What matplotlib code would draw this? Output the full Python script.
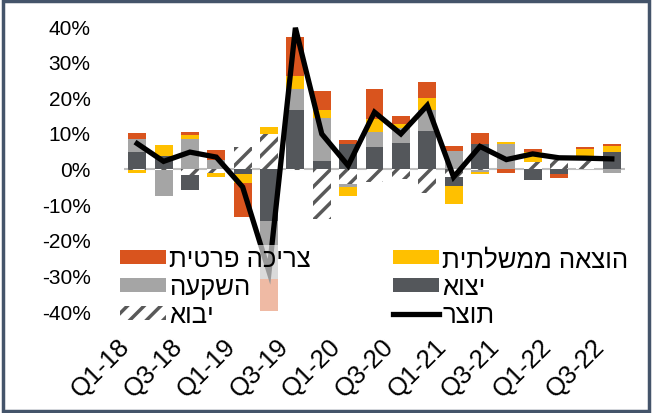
import numpy as np
import matplotlib.pyplot as plt
from matplotlib.patches import Rectangle
from matplotlib.lines import Line2D
from matplotlib.transforms import ScaledTranslation

plt.rcParams['font.family'] = ['Liberation Sans', 'DejaVu Sans']
plt.rcParams['hatch.linewidth'] = 2.5

# ---------------------------
# DATA (contributions to GDP growth, %)
# ---------------------------
quarters = ['Q1-18', 'Q2-18', 'Q3-18', 'Q4-18', 'Q1-19', 'Q2-19', 'Q3-19', 'Q4-19',
            'Q1-20', 'Q2-20', 'Q3-20', 'Q4-20', 'Q1-21', 'Q2-21', 'Q3-21', 'Q4-21',
            'Q1-22', 'Q2-22', 'Q3-22']

imports = [-0.4, -0.5, -1.9, -1.3, 6.0, 9.8, -0.3, -14.1, -4.3, -3.8, -2.9, -7.0,
           -2.5, -0.5, 0.0, 1.8, 2.3, 2.7, 0.0]
exports = [4.6, 3.6, -4.0, 0.0, -1.5, -14.6, 16.3, 2.2, 7.0, 5.9, 7.2, 10.6,
           -2.5, 6.9, 0.0, -3.3, -1.5, 0.0, 4.6]
investment = [3.7, -7.1, 8.4, 2.5, 0.0, -16.3, 6.1, 12.1, -1.0, 4.4, 4.2, 5.8,
              4.9, -0.6, 6.9, 0.0, 0.0, 0.0, -1.2]
government = [-1.0, 3.0, 1.1, -1.0, -2.6, 1.9, 3.7, 2.1, -2.5, 3.7, 1.2, 3.3,
              -5.0, -0.4, 0.6, 2.8, 0.0, 2.8, 1.6]
private = [1.7, 0.0, 0.8, 2.7, -9.5, -9.2, 10.8, 5.4, 0.9, 8.4, 2.0, 4.7,
           1.3, 3.0, -1.3, 1.0, -1.2, 0.6, 0.8]
gdp = [7.0, 2.0, 4.6, 3.2, -5.2, -29.0, 39.5, 9.7, 0.8, 15.8, 9.7, 17.7,
       -2.4, 6.2, 2.5, 4.1, 3.0, 2.9, 2.7]

# labels in logical (reading) order
lbl_private = 'צריכה פרטית'
lbl_gov = 'הוצאה ממשלתית'
lbl_invest = 'השקעה'
lbl_exports = 'יצוא'
lbl_imports = 'יבוא'
lbl_gdp = 'תוצר'


def rtl(s):
    # matplotlib draws left-to-right, so flip the Hebrew strings for display
    return s[::-1]


# ---------------------------
# PLOT
# ---------------------------
fig = plt.figure(figsize=(6.52, 4.14), dpi=100)
ax = fig.add_axes([124 / 652, 1 - 312 / 414, 501 / 652, 285 / 414])

x = np.arange(len(quarters))
width = 0.68

series = [
    (imports, 'white', '#595959', '//'),
    (exports, '#54575b', None, None),
    (investment, '#a5a5a5', None, None),
    (government, '#ffc000', None, None),
    (private, '#d9541e', None, None),
]

pos = np.zeros(len(x))
neg = np.zeros(len(x))
for vals, fc, ec, hatch in series:
    v = np.array(vals)
    bottom = np.where(v >= 0, pos, neg)
    ax.bar(x, v, width, bottom=bottom, color=fc, edgecolor=ec if ec else fc,
           hatch=hatch, linewidth=0, zorder=2)
    pos = pos + np.where(v > 0, v, 0)
    neg = neg + np.where(v < 0, v, 0)

ax.axhline(0, color='#bfbfbf', linewidth=1.5, zorder=1)
ax.plot(x, gdp, color='black', linewidth=3.8, zorder=3, solid_joinstyle='miter')

ax.set_xlim(-0.5, len(x) - 0.5)
ax.set_ylim(-40, 40)
ax.set_yticks(np.arange(-40, 41, 10))
ax.set_yticklabels([f'{t}%' for t in range(-40, 41, 10)], fontsize=15)
ax.set_xticks(x[::2])
ax.set_xticklabels(quarters[::2], rotation=45, ha='right', va='top',
                   rotation_mode='anchor', fontsize=18.5)
ax.tick_params(axis='both', length=0)
ax.tick_params(axis='y', pad=24)
ax.tick_params(axis='x', pad=16)
# nudge rotated labels left (after tick_params, which resets transforms)
for lab in ax.get_xticklabels():
    lab.set_transform(lab.get_transform() + ScaledTranslation(-14 / 72, 0, fig.dpi_scale_trans))
for s in ax.spines.values():
    s.set_visible(False)

handles = [
    Rectangle((0, 0), 1, 1, facecolor='#d9541e'),
    Rectangle((0, 0), 1, 1, facecolor='#a5a5a5'),
    Rectangle((0, 0), 1, 1, facecolor='white', edgecolor='#595959', hatch='//', linewidth=0),
    Rectangle((0, 0), 1, 1, facecolor='#ffc000'),
    Rectangle((0, 0), 1, 1, facecolor='#54575b'),
    Line2D([0], [0], color='black', linewidth=3.8),
]
labels = [rtl(lbl_private), rtl(lbl_invest), rtl(lbl_imports),
          rtl(lbl_gov), rtl(lbl_exports), rtl(lbl_gdp)]
leg = ax.legend(handles, labels, ncol=2, loc='upper left', bbox_to_anchor=(-0.014, 0.232),
                fontsize=18.5, frameon=True, framealpha=0.6, edgecolor='none',
                handlelength=1.8, handleheight=0.45, handletextpad=0.12,
                labelspacing=0.15, columnspacing=3.2, borderpad=0.1, borderaxespad=0,
                fancybox=False)
leg.set_zorder(5)

# outer chart border
fig.patches.append(Rectangle((0.004, 0.005), 0.992, 0.99, transform=fig.transFigure,
                             fill=False, edgecolor='#44546a', linewidth=2.5))

fig.savefig('out.png', dpi=100)
